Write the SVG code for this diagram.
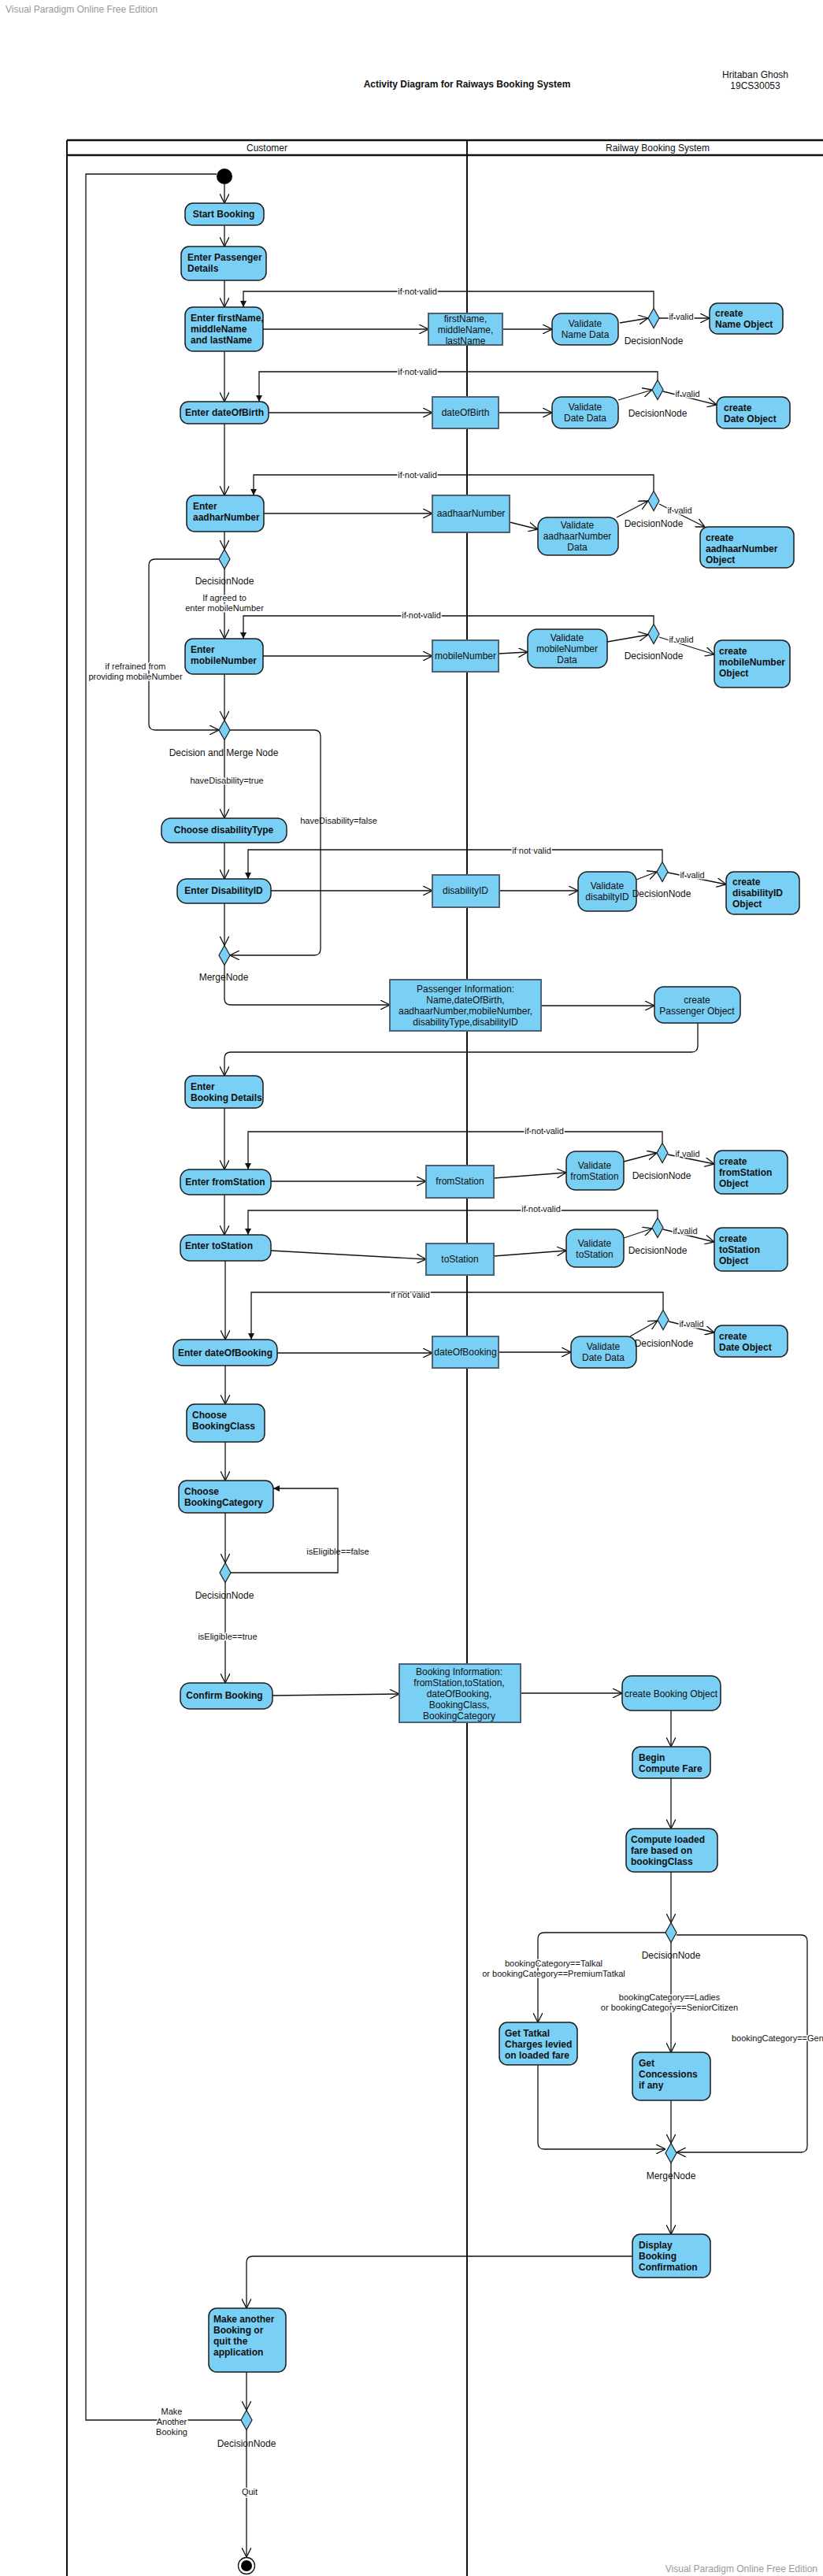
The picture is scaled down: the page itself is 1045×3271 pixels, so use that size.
<svg xmlns="http://www.w3.org/2000/svg" width="1045" height="3271" viewBox="0 0 1045 3271">
<style>
.act{fill:#7ACFF5;stroke:#1c1c1c;stroke-width:1.5}
.obj{fill:#7ACFF5;stroke:#4d6275;stroke-width:2}
.dia{fill:#7ACFF5;stroke:#1c1c1c;stroke-width:1.2}
.t{font-family:"Liberation Sans",Arial,sans-serif;font-size:12px;fill:#111}
.b{font-weight:bold}
.c{text-anchor:middle}
.lbl{font-size:11px;paint-order:stroke;stroke:#fff;stroke-width:3px;stroke-linejoin:round}
.wm{font-family:"Liberation Sans",Arial,sans-serif;font-size:12px;fill:#999}
.conn path{fill:none;stroke:#111;stroke-width:1.3}
.lane{stroke:#111;fill:none}
</style>
<defs>
<marker id="arr" viewBox="0 0 12 12" refX="12" refY="6" markerWidth="12" markerHeight="12" markerUnits="userSpaceOnUse" orient="auto"><path d="M0,0 L12,6 L0,12" fill="none" stroke="#111" stroke-width="1.3"/></marker>
<marker id="arrf" viewBox="0 0 8 8" refX="8" refY="4" markerWidth="8" markerHeight="8" markerUnits="userSpaceOnUse" orient="auto"><path d="M0,0 L8,4 L0,8 Z" fill="#111"/></marker>
</defs>
<rect width="1045" height="3271" fill="#fff"/>
<text class="wm" x="7" y="16">Visual Paradigm Online Free Edition</text>
<text class="wm" x="1038" y="3266" text-anchor="end">Visual Paradigm Online Free Edition</text>
<text class="t b c" x="593" y="111">Activity Diagram for Raiways Booking System</text>
<text class="t c" x="959" y="99">Hritaban Ghosh</text>
<text class="t c" x="959" y="113">19CS30053</text>

<g id="swimlanes">
<path class="lane" d="M85,178 H1045 M85,197 H1045" stroke-width="2.5"/>
<path class="lane" d="M85,178 V3271 M593,178 V3271" stroke-width="2"/>
<text class="t c" x="339" y="192">Customer</text>
<text class="t c" x="835" y="192">Railway Booking System</text>
</g>

<g id="connectors" class="conn">
<path d="M285,234 V258" marker-end="url(#arr)"/>
<path d="M285,286 V313" marker-end="url(#arr)"/>
<path d="M285,356 V390" marker-end="url(#arr)"/>
<path d="M334,418 H544" marker-end="url(#arr)"/>
<path d="M638,418 H701" marker-end="url(#arr)"/>
<path d="M787,410 L823,404" marker-end="url(#arr)"/>
<path d="M837,404 H901" marker-end="url(#arr)"/>
<path d="M830,391.5 V370 H309 V390" marker-end="url(#arrf)"/>
<path d="M285,446 V510" marker-end="url(#arr)"/>
<path d="M341,524 H549" marker-end="url(#arr)"/>
<path d="M633,524 H701" marker-end="url(#arr)"/>
<path d="M785,508 L828,495" marker-end="url(#arr)"/>
<path d="M842,497 L910,514" marker-end="url(#arr)"/>
<path d="M835,482.5 V472 H329 V510" marker-end="url(#arrf)"/>
<path d="M285,538 V629" marker-end="url(#arr)"/>
<path d="M335,652 H549" marker-end="url(#arr)"/>
<path d="M647,663 L683,672" marker-end="url(#arr)"/>
<path d="M783,657 L823,636" marker-end="url(#arr)"/>
<path d="M837,640 L895,669" marker-end="url(#arr)"/>
<path d="M830,623.5 V603 H322 V629" marker-end="url(#arrf)"/>
<path d="M285,675 V697.5" marker-end="url(#arr)"/>
<path d="M285,722.5 V811" marker-end="url(#arr)"/>
<path d="M278,710 H197 Q189,710 189,718 V919 Q189,927 197,927 H278" marker-end="url(#arr)"/>
<path d="M830,792.5 V782 H309 V811" marker-end="url(#arrf)"/>
<path d="M334,833 H549" marker-end="url(#arr)"/>
<path d="M633,830 L670,828" marker-end="url(#arr)"/>
<path d="M771,815 L823,806" marker-end="url(#arr)"/>
<path d="M837,809 L907,831" marker-end="url(#arr)"/>
<path d="M285,856 V914.5" marker-end="url(#arr)"/>
<path d="M285,939.5 V1039" marker-end="url(#arr)"/>
<path d="M292,927 H399 Q407,927 407,935 V1205 Q407,1213 399,1213 H292" marker-end="url(#arr)"/>
<path d="M285,1070 V1116" marker-end="url(#arr)"/>
<path d="M841,1094.5 V1079 H315 V1116" marker-end="url(#arrf)"/>
<path d="M344,1131 H549" marker-end="url(#arr)"/>
<path d="M634,1131 H734" marker-end="url(#arr)"/>
<path d="M808,1117 L834,1107" marker-end="url(#arr)"/>
<path d="M848,1108 L922,1123" marker-end="url(#arr)"/>
<path d="M285,1147 V1200.5" marker-end="url(#arr)"/>
<path d="M285,1225.5 V1268 Q285,1276 293,1276 H495" marker-end="url(#arr)"/>
<path d="M687,1277 H831" marker-end="url(#arr)"/>
<path d="M886,1299 V1328 Q886,1336 878,1336 H293 Q285,1336 285,1344 V1366" marker-end="url(#arr)"/>
<path d="M285,1407 V1485" marker-end="url(#arr)"/>
<path d="M841,1451.5 V1437 H315 V1485" marker-end="url(#arrf)"/>
<path d="M344,1500 H541" marker-end="url(#arr)"/>
<path d="M627,1496 L719,1489" marker-end="url(#arr)"/>
<path d="M792,1475 L834,1464" marker-end="url(#arr)"/>
<path d="M848,1466 L907,1478" marker-end="url(#arr)"/>
<path d="M285,1517 V1568" marker-end="url(#arr)"/>
<path d="M835,1546.5 V1537 H315 V1568" marker-end="url(#arrf)"/>
<path d="M344,1588 L541,1599" marker-end="url(#arr)"/>
<path d="M627,1595 L719,1588" marker-end="url(#arr)"/>
<path d="M792,1572 L828,1560" marker-end="url(#arr)"/>
<path d="M842,1561 L907,1577" marker-end="url(#arr)"/>
<path d="M286,1601 V1701" marker-end="url(#arr)"/>
<path d="M842,1663.5 V1641 H319 V1701" marker-end="url(#arrf)"/>
<path d="M352,1718 H549" marker-end="url(#arr)"/>
<path d="M633,1717 H725" marker-end="url(#arr)"/>
<path d="M800,1697 L835,1677" marker-end="url(#arr)"/>
<path d="M849,1678 L907,1692" marker-end="url(#arr)"/>
<path d="M286,1734 V1783" marker-end="url(#arr)"/>
<path d="M286,1831 V1880" marker-end="url(#arr)"/>
<path d="M286,1921 V1984.5" marker-end="url(#arr)"/>
<path d="M293,1997 H429 V1890 H347" marker-end="url(#arrf)"/>
<path d="M286,2009.5 V2137" marker-end="url(#arr)"/>
<path d="M346,2153 L507,2151" marker-end="url(#arr)"/>
<path d="M661,2150 H790" marker-end="url(#arr)"/>
<path d="M852,2172 V2218" marker-end="url(#arr)"/>
<path d="M852,2258 V2322" marker-end="url(#arr)"/>
<path d="M852,2377 V2441.5" marker-end="url(#arr)"/>
<path d="M845,2454 H691 Q683,2454 683,2462 V2568" marker-end="url(#arr)"/>
<path d="M852,2466.5 V2606" marker-end="url(#arr)"/>
<path d="M859,2457 H1017 Q1025,2457 1025,2465 V2725 Q1025,2733 1017,2733 H859" marker-end="url(#arr)"/>
<path d="M683,2622 V2721 Q683,2729 691,2729 H845" marker-end="url(#arr)"/>
<path d="M852,2667 V2721.5" marker-end="url(#arr)"/>
<path d="M852,2746.5 V2837" marker-end="url(#arr)"/>
<path d="M803,2865 H321 Q313,2865 313,2873 V2931" marker-end="url(#arr)"/>
<path d="M313,3012 V3060.5" marker-end="url(#arr)"/>
<path d="M306,3073 H109 V221 H275"/>
<path d="M313,3085.5 V3247" marker-end="url(#arr)"/>
</g>

<g id="connector-labels">
<text class="t lbl c" x="530" y="374">if not valid</text>
<text class="t lbl c" x="530" y="476">if not valid</text>
<text class="t lbl c" x="530" y="607">if not valid</text>
<text class="t lbl c" x="535" y="785">if not valid</text>
<text class="t lbl c" x="675" y="1084">if not valid</text>
<text class="t lbl c" x="691" y="1440">if not valid</text>
<text class="t lbl c" x="687" y="1539">if not valid</text>
<text class="t lbl c" x="521" y="1648">if not valid</text>
<text class="t lbl c" x="865" y="406">if valid</text>
<text class="t lbl c" x="873" y="504">if valid</text>
<text class="t lbl c" x="863" y="652">if valid</text>
<text class="t lbl c" x="865" y="816">if valid</text>
<text class="t lbl c" x="879" y="1115">if valid</text>
<text class="t lbl c" x="873" y="1469">if valid</text>
<text class="t lbl c" x="870" y="1567">if valid</text>
<text class="t lbl c" x="878" y="1685">if valid</text>
<text class="t lbl c" x="285" y="763">If agreed to</text>
<text class="t lbl c" x="285" y="776">enter mobileNumber</text>
<text class="t lbl c" x="172" y="850">if refrained from</text>
<text class="t lbl c" x="172" y="863">providing mobileNumber</text>
<text class="t lbl c" x="288" y="995">haveDisability=true</text>
<text class="t c" x="430" y="1046" style="font-size:11px">haveDisability=false</text>
<text class="t c" x="429" y="1974" style="font-size:11px">isEligible==false</text>
<text class="t lbl c" x="289" y="2082">isEligible==true</text>
<text class="t lbl c" x="703" y="2497">bookingCategory==Talkal</text>
<text class="t lbl c" x="703" y="2510">or bookingCategory==PremiumTatkal</text>
<text class="t lbl c" x="850" y="2540">bookingCategory==Ladies</text>
<text class="t lbl c" x="850" y="2553">or bookingCategory==SeniorCitizen</text>
<text class="t lbl" x="929" y="2592">bookingCategory==General</text>
<text class="t lbl c" x="218" y="3066">Make</text>
<text class="t lbl c" x="218" y="3079">Another</text>
<text class="t lbl c" x="218" y="3092">Booking</text>
<text class="t lbl c" x="317" y="3168">Quit</text>
</g>

<g id="start"><circle cx="285" cy="224" r="10" fill="#000"/></g>
<g id="startBooking"><rect class="act" x="235" y="258" width="100" height="28" rx="10"/><text class="t b c" x="284" y="276">Start Booking</text></g>
<g id="enterPassengerDetails"><rect class="act" x="230" y="313" width="108" height="43" rx="10"/><text class="t b" x="238" y="331">Enter Passenger</text><text class="t b" x="238" y="345">Details</text></g>
<g id="enterName"><rect class="act" x="235" y="390" width="99" height="56" rx="10"/><text class="t b" x="242" y="408">Enter firstName,</text><text class="t b" x="242" y="422">middleName</text><text class="t b" x="242" y="436">and lastName</text></g>
<g id="nameObj"><rect class="obj" x="544" y="398" width="94" height="40"/><text class="t c" x="591" y="409">firstName,</text><text class="t c" x="591" y="423">middleName,</text><text class="t c" x="591" y="437">lastName</text></g>
<g id="validateName"><rect class="act" x="701" y="398" width="84" height="40" rx="12"/><text class="t c" x="743" y="415">Validate</text><text class="t c" x="743" y="429">Name Data</text></g>
<g id="decName"><path class="dia" d="M830,391.5 L837,404 L830,416.5 L823,404 Z"/><text class="t c" x="830" y="437">DecisionNode</text></g>
<g id="createName"><rect class="act" x="901" y="385" width="93" height="39" rx="10"/><text class="t b" x="908" y="402">create</text><text class="t b" x="908" y="416">Name Object</text></g>

<g id="enterDob"><rect class="act" x="229" y="510" width="112" height="28" rx="10"/><text class="t b c" x="285" y="528">Enter dateOfBirth</text></g>
<g id="dobObj"><rect class="obj" x="549" y="504" width="84" height="40"/><text class="t c" x="591" y="528">dateOfBirth</text></g>
<g id="validateDob"><rect class="act" x="701" y="504" width="84" height="40" rx="12"/><text class="t c" x="743" y="521">Validate</text><text class="t c" x="743" y="535">Date Data</text></g>
<g id="decDob"><path class="dia" d="M835,482.5 L842,495 L835,507.5 L828,495 Z"/><text class="t c" x="835" y="529">DecisionNode</text></g>
<g id="createDob"><rect class="act" x="910" y="504" width="93" height="40" rx="10"/><text class="t b" x="919" y="522">create</text><text class="t b" x="919" y="536">Date Object</text></g>

<g id="enterAadhar"><rect class="act" x="237" y="629" width="98" height="46" rx="10"/><text class="t b" x="245" y="647">Enter</text><text class="t b" x="245" y="661">aadharNumber</text></g>
<g id="aadharObj"><rect class="obj" x="549" y="629" width="98" height="47"/><text class="t c" x="598" y="656">aadhaarNumber</text></g>
<g id="validateAadhar"><rect class="act" x="683" y="657" width="102" height="48" rx="12"/><text class="t c" x="733" y="671">Validate</text><text class="t c" x="733" y="685">aadhaarNumber</text><text class="t c" x="733" y="699">Data</text></g>
<g id="decAadhar"><path class="dia" d="M830,623.5 L837,636 L830,648.5 L823,636 Z"/><text class="t c" x="830" y="669">DecisionNode</text></g>
<g id="createAadhar"><rect class="act" x="889" y="669" width="119" height="52" rx="10"/><text class="t b" x="896" y="687">create</text><text class="t b" x="896" y="701">aadhaarNumber</text><text class="t b" x="896" y="715"> Object</text></g>
<g id="decMobile"><path class="dia" d="M285,697.5 L292,710 L285,722.5 L278,710 Z"/><text class="t c" x="285" y="742">DecisionNode</text></g>

<g id="enterMobile"><rect class="act" x="235" y="811" width="99" height="45" rx="10"/><text class="t b" x="242" y="829">Enter</text><text class="t b" x="242" y="843">mobileNumber</text></g>
<g id="mobileObj"><rect class="obj" x="549" y="813" width="84" height="40"/><text class="t c" x="591" y="837">mobileNumber</text></g>
<g id="validateMobile"><rect class="act" x="670" y="799" width="101" height="49" rx="12"/><text class="t c" x="720" y="814">Validate</text><text class="t c" x="720" y="828">mobileNumber</text><text class="t c" x="720" y="842">Data</text></g>
<g id="decMobileValid"><path class="dia" d="M830,792.5 L837,805 L830,817.5 L823,805 Z"/><text class="t c" x="830" y="837">DecisionNode</text></g>
<g id="createMobile"><rect class="act" x="907" y="813" width="96" height="60" rx="10"/><text class="t b" x="913" y="831">create</text><text class="t b" x="913" y="845">mobileNumber</text><text class="t b" x="913" y="859"> Object</text></g>

<g id="decMergeDisability"><path class="dia" d="M285,914.5 L292,927 L285,939.5 L278,927 Z"/><text class="t c" x="284" y="960">Decision and Merge Node</text></g>
<g id="chooseDisability"><rect class="act" x="205" y="1039" width="159" height="31" rx="12"/><text class="t b c" x="284" y="1058">Choose disabilityType</text></g>
<g id="enterDisabilityId"><rect class="act" x="225" y="1116" width="119" height="31" rx="12"/><text class="t b c" x="284" y="1135">Enter DisabilityID</text></g>
<g id="disabilityObj"><rect class="obj" x="549" y="1111" width="85" height="41"/><text class="t c" x="591" y="1135">disabilityID</text></g>
<g id="validateDisability"><rect class="act" x="734" y="1107" width="74" height="50" rx="12"/><text class="t c" x="771" y="1129">Validate</text><text class="t c" x="771" y="1143">disabiltyID</text></g>
<g id="decDisability"><path class="dia" d="M841,1094.5 L848,1107 L841,1119.5 L834,1107 Z"/><text class="t c" x="840" y="1139">DecisionNode</text></g>
<g id="createDisability"><rect class="act" x="922" y="1107" width="93" height="54" rx="10"/><text class="t b" x="930" y="1124">create</text><text class="t b" x="930" y="1138">disabilityID</text><text class="t b" x="930" y="1152">Object</text></g>
<g id="mergeDisability"><path class="dia" d="M285,1200.5 L292,1213 L285,1225.5 L278,1213 Z"/><text class="t c" x="284" y="1245">MergeNode</text></g>

<g id="passengerInfo"><rect class="obj" x="495" y="1244" width="192" height="65"/><text class="t c" x="591" y="1260">Passenger Information:</text><text class="t c" x="591" y="1274">Name,dateOfBirth,</text><text class="t c" x="591" y="1288">aadhaarNumber,mobileNumber,</text><text class="t c" x="591" y="1302">disabilityType,disabilityID</text></g>
<g id="createPassenger"><rect class="act" x="831" y="1253" width="109" height="46" rx="12"/><text class="t c" x="885" y="1274">create</text><text class="t c" x="885" y="1288">Passenger Object</text></g>

<g id="enterBookingDetails"><rect class="act" x="235" y="1366" width="99" height="41" rx="10"/><text class="t b" x="242" y="1384">Enter</text><text class="t b" x="242" y="1398">Booking Details</text></g>
<g id="enterFrom"><rect class="act" x="229" y="1485" width="115" height="32" rx="12"/><text class="t b c" x="286" y="1505">Enter fromStation</text></g>
<g id="fromObj"><rect class="obj" x="541" y="1480" width="86" height="41"/><text class="t c" x="584" y="1504">fromStation</text></g>
<g id="validateFrom"><rect class="act" x="719" y="1462" width="73" height="49" rx="12"/><text class="t c" x="755" y="1484">Validate</text><text class="t c" x="755" y="1498">fromStation</text></g>
<g id="decFrom"><path class="dia" d="M841,1451.5 L848,1464 L841,1476.5 L834,1464 Z"/><text class="t c" x="840" y="1497">DecisionNode</text></g>
<g id="createFrom"><rect class="act" x="907" y="1461" width="93" height="55" rx="10"/><text class="t b" x="913" y="1479">create</text><text class="t b" x="913" y="1493">fromStation</text><text class="t b" x="913" y="1507">Object</text></g>

<g id="enterTo"><rect class="act" x="229" y="1568" width="115" height="33" rx="12"/><text class="t b" x="235" y="1586">Enter toStation</text></g>
<g id="toObj"><rect class="obj" x="541" y="1579" width="86" height="40"/><text class="t c" x="584" y="1603">toStation</text></g>
<g id="validateTo"><rect class="act" x="719" y="1561" width="73" height="48" rx="12"/><text class="t c" x="755" y="1583">Validate</text><text class="t c" x="755" y="1597">toStation</text></g>
<g id="decTo"><path class="dia" d="M835,1546.5 L842,1559 L835,1571.5 L828,1559 Z"/><text class="t c" x="835" y="1592">DecisionNode</text></g>
<g id="createTo"><rect class="act" x="907" y="1559" width="93" height="55" rx="10"/><text class="t b" x="913" y="1577">create</text><text class="t b" x="913" y="1591">toStation</text><text class="t b" x="913" y="1605">Object</text></g>

<g id="enterDateOfBooking"><rect class="act" x="220" y="1701" width="132" height="33" rx="12"/><text class="t b c" x="286" y="1722">Enter dateOfBooking</text></g>
<g id="dateOfBookingObj"><rect class="obj" x="549" y="1697" width="84" height="40"/><text class="t c" x="591" y="1721">dateOfBooking</text></g>
<g id="validateDateOfBooking"><rect class="act" x="725" y="1697" width="83" height="40" rx="12"/><text class="t c" x="766" y="1714">Validate</text><text class="t c" x="766" y="1728">Date Data</text></g>
<g id="decDateOfBooking"><path class="dia" d="M842,1663.5 L849,1676 L842,1688.5 L835,1676 Z"/><text class="t c" x="843" y="1710">DecisionNode</text></g>
<g id="createDateOfBooking"><rect class="act" x="907" y="1683" width="93" height="40" rx="10"/><text class="t b" x="913" y="1701">create</text><text class="t b" x="913" y="1715">Date Object</text></g>

<g id="chooseClass"><rect class="act" x="237" y="1783" width="99" height="48" rx="10"/><text class="t b" x="244" y="1801">Choose</text><text class="t b" x="244" y="1815">BookingClass</text></g>
<g id="chooseCategory"><rect class="act" x="227" y="1880" width="120" height="41" rx="10"/><text class="t b" x="234" y="1898">Choose</text><text class="t b" x="234" y="1912">BookingCategory</text></g>
<g id="decEligible"><path class="dia" d="M286,1984.5 L293,1997 L286,2009.5 L279,1997 Z"/><text class="t c" x="285" y="2030">DecisionNode</text></g>
<g id="confirmBooking"><rect class="act" x="229" y="2137" width="117" height="33" rx="12"/><text class="t b c" x="285" y="2157">Confirm Booking</text></g>
<g id="bookingInfo"><rect class="obj" x="507" y="2113" width="154" height="74"/><text class="t c" x="583" y="2127">Booking Information:</text><text class="t c" x="583" y="2141">fromStation,toStation,</text><text class="t c" x="583" y="2155">dateOfBooking,</text><text class="t c" x="583" y="2169">BookingClass,</text><text class="t c" x="583" y="2183">BookingCategory</text></g>
<g id="createBooking"><rect class="act" x="790" y="2128" width="125" height="44" rx="12"/><text class="t c" x="852" y="2155">create Booking Object</text></g>
<g id="beginFare"><rect class="act" x="803" y="2218" width="99" height="40" rx="10"/><text class="t b" x="811" y="2236">Begin</text><text class="t b" x="811" y="2250">Compute Fare</text></g>
<g id="computeFare"><rect class="act" x="795" y="2322" width="116" height="55" rx="10"/><text class="t b" x="801" y="2340">Compute loaded</text><text class="t b" x="801" y="2354">fare based on</text><text class="t b" x="801" y="2368">bookingClass</text></g>
<g id="decCategory"><path class="dia" d="M852,2441.5 L859,2454 L852,2466.5 L845,2454 Z"/><text class="t c" x="852" y="2487">DecisionNode</text></g>
<g id="tatkal"><rect class="act" x="634" y="2568" width="99" height="54" rx="10"/><text class="t b" x="641" y="2586">Get Tatkal</text><text class="t b" x="641" y="2600">Charges levied</text><text class="t b" x="641" y="2614">on loaded fare</text></g>
<g id="concessions"><rect class="act" x="803" y="2606" width="99" height="61" rx="10"/><text class="t b" x="811" y="2624">Get</text><text class="t b" x="811" y="2638">Concessions</text><text class="t b" x="811" y="2652">if any</text></g>
<g id="mergeFare"><path class="dia" d="M852,2721.5 L859,2734 L852,2746.5 L845,2734 Z"/><text class="t c" x="852" y="2767">MergeNode</text></g>
<g id="displayConfirmation"><rect class="act" x="803" y="2837" width="99" height="55" rx="10"/><text class="t b" x="811" y="2855">Display</text><text class="t b" x="811" y="2869">Booking</text><text class="t b" x="811" y="2883">Confirmation</text></g>
<g id="makeAnother"><rect class="act" x="265" y="2931" width="98" height="81" rx="10"/><text class="t b" x="271" y="2949">Make another</text><text class="t b" x="271" y="2963">Booking or</text><text class="t b" x="271" y="2977">quit the</text><text class="t b" x="271" y="2991">application</text></g>
<g id="decAnother"><path class="dia" d="M313,3060.5 L320,3073 L313,3085.5 L306,3073 Z"/><text class="t c" x="313" y="3107">DecisionNode</text></g>
<g id="final"><circle cx="313" cy="3258" r="10.5" fill="#fff" stroke="#111" stroke-width="1.3"/><circle cx="313" cy="3258" r="7" fill="#000"/></g>
</svg>
